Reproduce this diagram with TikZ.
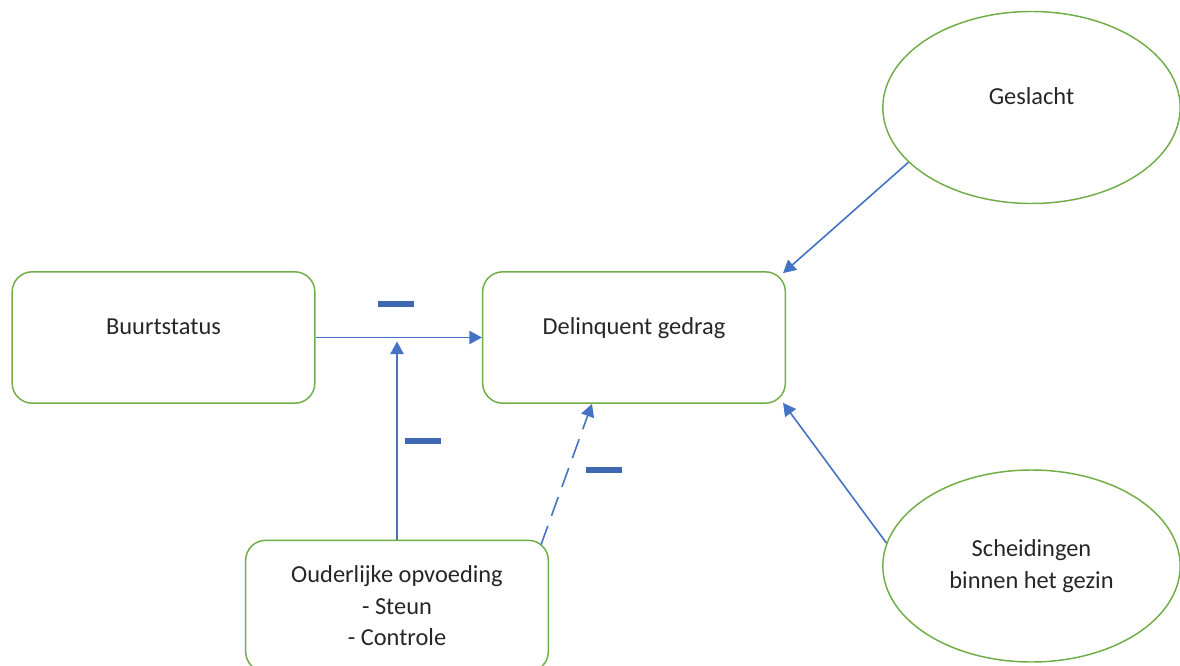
\documentclass[tikz,border=0pt]{standalone}
\usepackage{fontspec}
\setmainfont{Carlito}
\usetikzlibrary{arrows.meta,shapes.geometric,calc}

\definecolor{boxgreen}{HTML}{70AD47}
\definecolor{arrowblue}{HTML}{4472C4}

\begin{document}
\begin{tikzpicture}[x=0.75pt,y=-0.75pt,
    font=\fontsize{18.3}{23.6}\selectfont,text=black!85,
    factor/.style={draw=boxgreen,line width=1.1pt,rounded corners=15pt,minimum width=227pt,minimum height=98.5pt,align=center},
    raised/.style={text height=12pt,text depth=15.8pt},
    cause/.style={ellipse,draw=boxgreen,line width=1.1pt,minimum width=223pt,minimum height=144pt,inner sep=0pt,align=center},
    effect/.style={draw=arrowblue,line width=1.2pt,-{Triangle[length=9.5pt,width=10pt]}},
    minbar/.style={fill=arrowblue!90!black,inner sep=0pt,minimum width=27.5pt,minimum height=4.5pt}]

            \useasboundingbox (0,0) rectangle (1180,666);

            \node[factor,raised] (buurt) at (163.5,337.5) {Buurtstatus};
            \node[factor,raised] (delinq) at (634,337.5) {Delinquent gedrag};
            \node[factor] (ouder) at (397,606) {Ouderlijke opvoeding\\- Steun\\- Controle};

            \node[cause,text height=12pt,text depth=17pt] (gesl) at (1031.5,107.5) {Geslacht};
            \node[cause] (scheid) at (1031.5,566) {Scheidingen\\binnen het gezin};

            \draw[effect] (buurt.east) -- (delinq.west);
            \coordinate (mid) at ($(buurt.east)!0.5!(delinq.west)$);
            \draw[effect, shorten >=3pt] (ouder.north) -- (ouder.north |- mid);
            \draw[effect, dash pattern=on 15pt off 8pt] ($(ouder.north east)+(-8,5)$) -- ($(delinq.south west)+(110,0)$);

            \draw[effect] (gesl.204) -- ($(delinq.north east)+(-3,2)$);
            \draw[effect] (scheid.171) -- ($(delinq.south east)+(-3,-1)$);

            \node[minbar] (minus1) at (396,304) {};
            \node[minbar] (minus2) at (423,441) {};
            \node[minbar] (minus3) at (604,470) {};

          \end{tikzpicture}
\end{document}
